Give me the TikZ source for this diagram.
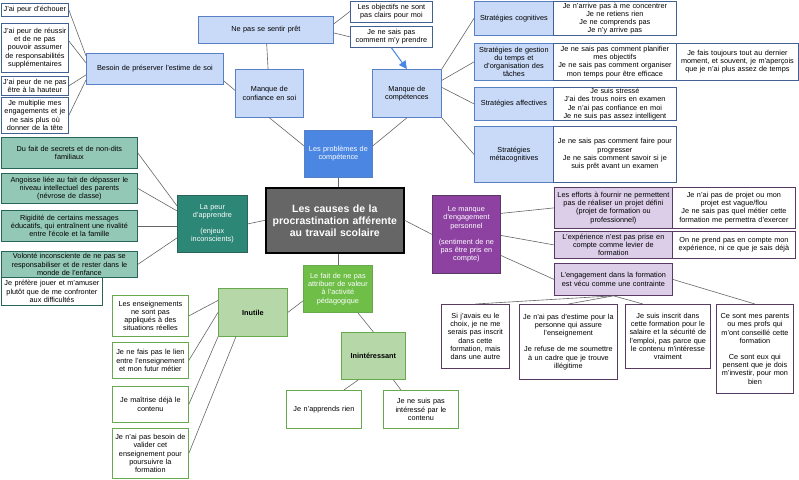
\documentclass[tikz,border=0pt]{standalone}
\usepackage{fontspec}
\setmainfont{Liberation Sans}
\usepackage{xcolor}
\usetikzlibrary{arrows.meta}
\definecolor{clrB}{RGB}{88,128,196}
\definecolor{bgB}{RGB}{201,218,248}
\definecolor{clrBd}{RGB}{74,134,226}
\definecolor{clrT}{RGB}{40,100,88}
\definecolor{bgT}{RGB}{148,200,182}
\definecolor{clrTd}{RGB}{44,135,118}
\definecolor{clrP}{RGB}{88,58,98}
\definecolor{bgP}{RGB}{220,206,232}
\definecolor{clrPd}{RGB}{141,66,162}
\definecolor{clrG}{RGB}{106,168,79}
\definecolor{bgG}{RGB}{182,215,168}
\definecolor{clrGd}{RGB}{110,190,72}
\definecolor{clrC}{RGB}{102,102,102}
\tikzset{
  box/.style={rectangle,draw,line width=0.8pt,align=center,inner xsep=1pt,inner ysep=1pt,
    font=\fontsize{7.3}{8.2}\selectfont,text=black},
  sz/.style 2 args={anchor=north west,minimum width=#1,minimum height=#2,text width=#1-2},
  mainB/.style={box,draw=clrB,fill=clrBd,text=white},
  subB/.style={box,draw=clrB,fill=bgB},
  leafB/.style={box,draw=clrB!75!black,fill=white},
  mainT/.style={box,draw=clrT,fill=clrTd,text=white},
  subT/.style={box,draw=clrT,fill=bgT},
  leafT/.style={box,draw=clrT,fill=white},
  mainP/.style={box,draw=clrP,fill=clrPd,text=white},
  subP/.style={box,draw=clrP,fill=bgP},
  leafP/.style={box,draw=clrP,fill=white},
  mainG/.style={box,draw=clrG,fill=clrGd,text=white},
  subG/.style={box,draw=clrG,fill=bgG,font=\fontsize{7.3}{8.2}\selectfont\bfseries},
  leafG/.style={box,draw=clrG,fill=white},
  hub/.style={box,draw=black,line width=1.6pt,fill=clrC,text=white,
    font=\fontsize{10.5}{12}\selectfont\bfseries},
  link/.style={draw=black!60,line width=0.6pt},
  arrow/.style={-{Triangle[length=8pt,width=8pt]},line width=1pt,draw=clrBd,fill=clrBd}
}
\begin{document}
\begin{tikzpicture}[x=1pt,y=-1pt]
  \useasboundingbox (0,0) rectangle (799,479);
  % centre
  \node[hub,sz={138}{65}] (causes) at (265,187)
    {Les causes de la\\procrastination afférente\\au travail scolaire};
  % competence
  \node[mainB,sz={68}{47}] (prob) at (304,130) {Les problèmes de\\compétence};
  \node[subB,sz={68}{48}] (conf) at (235,69) {Manque de\\confiance en soi};
  \node[subB,sz={69}{48}] (comp) at (372,69) {Manque de\\compétences};
  \node[subB,sz={135}{27}] (pret) at (198,16) {Ne pas se sentir prêt};
  \node[leafB,sz={82}{21}] (obj) at (350,0.5) {Les objectifs ne sont\\pas clairs pour moi};
  \node[leafB,sz={82}{21}] (prendre) at (350,26) {Je ne sais pas\\comment m'y prendre};
  \node[subB,sz={137}{31}] (estime) at (86,53) {Besoin de préserver l'estime de soi};
  \node[leafB,sz={67}{13}] (echec) at (1,3) {J'ai peur d'échouer};
  \node[leafB,sz={67}{49}] (reussir) at (1,23)
    {J'ai peur de réussir\\et de ne pas\\pouvoir assumer\\de responsabilités\\supplémentaires};
  \node[leafB,sz={67}{19}] (hauteur) at (1,76) {J'ai peur de ne pas\\être à la hauteur};
  \node[leafB,sz={67}{36}] (engag) at (1,97)
    {Je multiplie mes\\engagements et je\\ne sais plus où\\donner de la tête};
  \node[subB,sz={79}{34}] (cogn) at (474,1) {Stratégies cognitives};
  \node[leafB,sz={123}{34}] (cognT) at (553,1)
    {Je n'arrive pas à me concentrer\\Je ne retiens rien\\Je ne comprends pas\\Je n'y arrive pas};
  \node[subB,sz={79}{37}] (gest) at (474,43)
    {Stratégies de gestion\\du temps et\\d'organisation des\\tâches};
  \node[leafB,sz={123}{37}] (gestT) at (553,43)
    {Je ne sais pas comment planifier\\mes objectifs\\Je ne sais pas comment organiser\\mon temps pour être efficace};
  \node[leafB,sz={122}{37}] (gestX) at (676,43)
    {Je fais toujours tout au dernier\\moment, et souvent, je m'aperçois\\que je n'ai plus assez de temps};
  \node[subB,sz={79}{33}] (affe) at (474,87) {Stratégies affectives};
  \node[leafB,sz={123}{33}] (affeT) at (553,87)
    {Je suis stressé\\J'ai des trous noirs en examen\\Je n'ai pas confiance en moi\\Je ne suis pas assez intelligent};
  \node[subB,sz={79}{56}] (meta) at (474,126) {Stratégies\\métacognitives};
  \node[leafB,sz={123}{56}] (metaT) at (553,126)
    {Je ne sais pas comment faire pour\\progresser\\Je ne sais comment savoir si je\\suis prêt avant un examen};
  % peur
  \node[mainT,sz={70}{57}] (peur) at (177,195) {La peur\\d'apprendre\\[8pt](enjeux\\inconscients)};
  \node[subT,sz={136}{31}] (secret) at (1,137) {Du fait de secrets et de non-dits\\familiaux};
  \node[subT,sz={136}{30}] (angoisse) at (1,173)
    {Angoisse liée au fait de dépasser le\\niveau intellectuel des parents\\(névrose de classe)};
  \node[subT,sz={136}{31}] (rigid) at (1,210)
    {Rigidité de certains messages\\éducatifs, qui entraînent une rivalité\\entre l'école et la famille};
  \node[subT,sz={136}{26}] (volonte) at (1,251)
    {Volonté inconsciente de ne pas se\\responsabiliser et de rester dans le\\monde de l'enfance};
  \node[leafT,sz={101}{28}] (jouer) at (1,277)
    {Je préfère jouer et m'amuser\\plutôt que de me confronter\\aux difficultés};
  % engagement
  \node[mainP,sz={68}{78}] (manque) at (432,195)
    {Le manque\\d'engagement\\personnel\\[8pt](sentiment de ne\\pas être pris en\\compte)};
  \node[subP,sz={118}{41}] (efforts) at (554,187)
    {Les efforts à fournir ne permettent\\pas de réaliser un projet défini\\(projet de formation ou\\professionnel)};
  \node[leafP,sz={123}{41}] (projet) at (672,187)
    {Je n'ai pas de projet ou mon\\projet est vague/flou\\Je ne sais pas quel métier cette\\formation me permettra d'exercer};
  \node[subP,sz={118}{27}] (exper) at (554,231)
    {L'expérience n'est pas prise en\\compte comme levier de\\formation};
  \node[leafP,sz={123}{27}] (experT) at (672,231)
    {On ne prend pas en compte mon\\expérience, ni ce que je sais déjà};
  \node[subP,sz={118}{32}] (contr) at (554,263)
    {L'engagement dans la formation\\est vécu comme une contrainte};
  \node[leafP,sz={68}{64}] (choix) at (441,304)
    {Si j'avais eu le\\choix, je ne me\\serais pas inscrit\\dans cette\\formation, mais\\dans une autre};
  \node[leafP,sz={98}{75}] (estimeP) at (519,304)
    {Je n'ai pas d'estime pour la\\personne qui assure\\l'enseignement\\[8pt]Je refuse de me soumettre\\à un cadre que je trouve\\illégitime};
  \node[leafP,sz={85}{64}] (salaire) at (625,304)
    {Je suis inscrit dans\\cette formation pour le\\salaire et la sécurité de\\l'emploi, pas parce que\\le contenu m'intéresse\\vraiment};
  \node[leafP,sz={77}{89}] (parents) at (716,304)
    {Ce sont mes parents\\ou mes profs qui\\m'ont conseillé cette\\formation\\[8pt]Ce sont eux qui\\pensent que je dois\\m'investir, pour mon\\bien};
  % valeur
  \node[mainG,sz={69}{47}] (valeur) at (303,265)
    {Le fait de ne pas\\attribuer de valeur\\à l'activité\\pédagogique};
  \node[subG,sz={69}{48}] (inutile) at (218,288) {Inutile};
  \node[subG,sz={64}{47}] (inint) at (341,332) {Inintéressant};
  \node[leafG,sz={75}{38}] (rien) at (286,390) {Je n'apprends rien};
  \node[leafG,sz={75}{38}] (interesse) at (383,390) {Je ne suis pas\\intéressé par le\\contenu};
  \node[leafG,sz={76}{41}] (appli) at (112,295)
    {Les enseignements\\ne sont pas\\appliqués à des\\situations réelles};
  \node[leafG,sz={76}{36}] (lien) at (112,342)
    {Je ne fais pas le lien\\entre l'enseignement\\et mon futur métier};
  \node[leafG,sz={76}{36}] (maitrise) at (112,386) {Je maîtrise déjà le\\contenu};
  \node[leafG,sz={76}{50}] (valider) at (112,428)
    {Je n'ai pas besoin de\\valider cet\\enseignement pour\\poursuivre la\\formation};
  % connectors
  \draw[link] (prob.south |- causes.north) -- (prob.south);
  \draw[link] (causes.west) -- (peur.east);
  \draw[link] (causes.east) -- (manque.west);
  \draw[link] (valeur.north |- causes.south) -- (valeur.north);
  \draw[link] (conf.south) -- ([yshift=8pt]prob.west);
  \draw[link] ([yshift=8pt]prob.east) -- (comp.south);
  \draw[link] (conf) -- (pret);
  \draw[link] ([yshift=6pt]pret.east) -- (obj.west);
  \draw[link] ([yshift=-3pt]pret.east) -- (prendre.west);
  \draw[arrow] (prendre.south) -- (comp.north);
  \draw[link] ([yshift=-12pt]estime.east) -- ([yshift=3pt]conf.west);
  \draw[link] (echec.east) -- ([yshift=13pt]estime.west);
  \draw[link] ([yshift=7pt]reussir.east) -- ([yshift=6pt]estime.west);
  \draw[link] (hauteur.east) -- ([yshift=-6pt]estime.west);
  \draw[link] (engag.east) -- ([yshift=-11pt]estime.west);
  \draw[link] (comp.north east) -- (cogn.west);
  \draw[link] ([yshift=13pt]comp.east) -- (gest.west);
  \draw[link] ([yshift=6pt]comp.east) -- (affe.west);
  \draw[link] (comp.south east) -- (meta.west);
  \draw[link] (secret.east) -- ([yshift=18pt]peur.west);
  \draw[link] (angoisse.east) -- ([yshift=13pt]peur.west);
  \draw[link] (rigid.east) -- ([yshift=-2pt]peur.west);
  \draw[link] (volonte.east) -- ([yshift=-14pt]peur.west);
  \draw[link] ([yshift=21pt]manque.east) -- (efforts.west);
  \draw[link] ([yshift=-1pt]manque.east) -- (exper.west);
  \draw[link] ([yshift=-21pt]manque.east) -- (contr.west);
  \draw[link] (contr.south) -- (choix.north);
  \draw[link] (contr.south) -- (estimeP.north);
  \draw[link] (contr.south) -- ([xshift=-25pt]salaire.north);
  \draw[link] (contr.east) -- (parents.north);
  \draw[link] ([yshift=-12pt]valeur.west) -- (inutile.east);
  \draw[link] ([xshift=20pt]valeur.south) -- (inint.north);
  \draw[link] ([xshift=-15pt]inint.south) -- ([xshift=20pt]rien.north);
  \draw[link] ([xshift=20pt]inint.south) -- ([xshift=-20pt]interesse.north);
  \draw[link] (appli.east) -- ([yshift=12pt]inutile.west);
  \draw[link] (lien.east) -- (inutile.west);
  \draw[link] (maitrise.east) -- (inutile.south west);
  \draw[link] (valider.east) -- ([xshift=-17pt]inutile.south);
\end{tikzpicture}
\end{document}
